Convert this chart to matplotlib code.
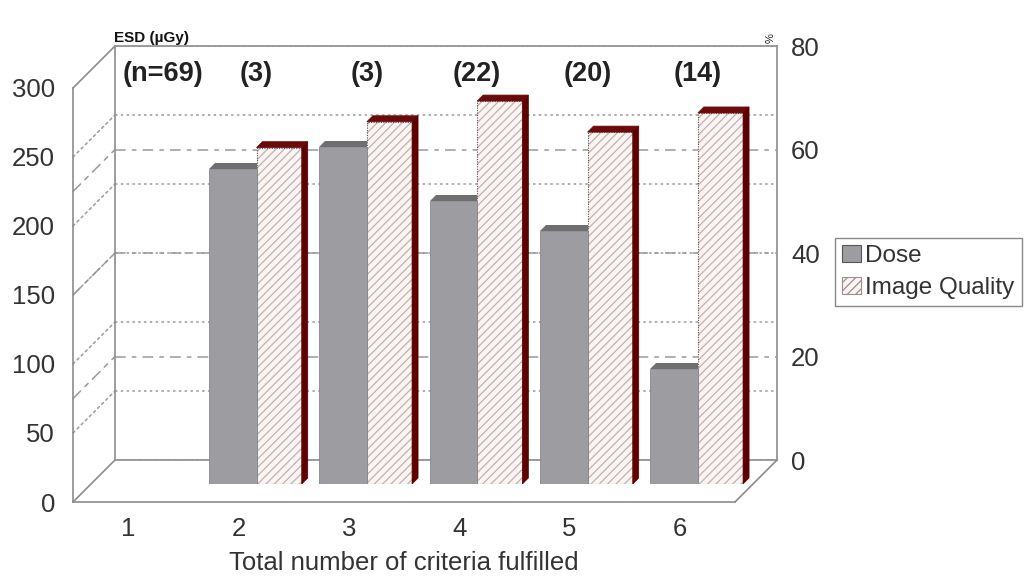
import numpy as np
import matplotlib
matplotlib.use("Agg")
import matplotlib.pyplot as plt
from matplotlib.patches import Polygon, Patch, ConnectionPatch

# Datos: dosis en superficie (ESD, µGy) y calidad de imagen (%) por nº de criterios
criterios = [1, 2, 3, 4, 5, 6]
dosis = [np.nan, 228, 244, 205, 183, 83]
calidad = [np.nan, 65, 70, 74, 68, 71.7]
n_casos = ["(n=69)", "(3)", "(3)", "(22)", "(20)", "(14)"]

plt.rcParams['font.family'] = ['Liberation Sans', 'DejaVu Sans']
plt.rcParams['hatch.linewidth'] = 0.9

W, H = 1028, 577
fig = plt.figure(figsize=(W / 100, H / 100), dpi=100)

# Planos de la "caja" 3D: frontal, barras y fondo (desplazados 45 grados)
PX_L, PX_BASE, PX_W, PX_H = 91, 484, 662, 414
D_FRONT, D_BACK = -18, 24
DEPTH_BAR = 6
GRIS = '#8c8c8c'
TXT = '#333333'


def caja(d):
    return [(PX_L + d) / W, (H - PX_BASE + d) / H, PX_W / W, PX_H / H]


axf = fig.add_axes(caja(D_FRONT))
axb = fig.add_axes(caja(D_BACK))
ax = fig.add_axes(caja(0))
for a in (axf, axb, ax):
    a.set_xlim(0.5, 6.5)
    a.set_ylim(0, 300)
axf_r = axf.twinx()
axb_r = axb.twinx()
ax2 = ax.twinx()
for a in (axf_r, axb_r, ax2):
    a.set_ylim(0, 80)

axf.set_zorder(0)
axf_r.set_zorder(0)
axb.set_zorder(0)
axb_r.set_zorder(0.5)
ax2.set_zorder(1)
ax.set_zorder(2)
ax.axis('off')
ax2.axis('off')
axf_r.axis('off')

# Plano frontal: suelo y eje izquierdo con etiquetas
for s in ('top', 'right'):
    axf.spines[s].set_visible(False)
for s in ('left', 'bottom'):
    axf.spines[s].set_color(GRIS)
    axf.spines[s].set_linewidth(1.2)
axf.patch.set_visible(False)
axf.set_xticks(criterios)
axf.set_yticks(range(0, 301, 50))
axf.tick_params(axis='x', length=0, pad=11, labelsize=18.5, labelcolor=TXT)
axf.tick_params(axis='y', length=0, pad=13, labelsize=18.5, labelcolor=TXT)
axf.set_xlabel('Total number of criteria fulfilled', fontsize=18.5, color=TXT, labelpad=7)

# Pared del fondo con rejilla
axb.patch.set_visible(False)
for s in axb.spines.values():
    s.set_color(GRIS)
    s.set_linewidth(1.2)
axb.set_xticks([])
axb.set_yticks(range(0, 301, 50))
axb.tick_params(axis='y', length=0, labelleft=False)
axb.yaxis.grid(True, linestyle=(0, (1.6, 2.2)), color='#9a9a9a', linewidth=1.1)
axb_r.patch.set_visible(False)
for s in axb_r.spines.values():
    s.set_visible(False)
axb_r.set_yticks(range(0, 81, 20))
axb_r.tick_params(axis='y', length=0, pad=10, labelsize=18.5, labelcolor=TXT)
axb_r.yaxis.grid(True, linestyle=(0, (7, 4, 3, 4)), color='#9a9a9a', linewidth=1.1)

# Pared izquierda y aristas del suelo
def arista(a_front, a_back, x, y, ls='-'):
    cp = ConnectionPatch(xyA=(x, y), coordsA=a_front.transData,
                         xyB=(x, y), coordsB=a_back.transData,
                         color=GRIS if ls == '-' else '#9a9a9a',
                         linewidth=1.2 if ls == '-' else 1.1, linestyle=ls)
    cp.set_zorder(0)
    fig.add_artist(cp)


arista(axf, axb, 0.5, 0)
arista(axf, axb, 0.5, 300)
arista(axf, axb, 6.5, 0)
for v in range(50, 300, 50):
    arista(axf, axb, 0.5, v, ls=(0, (1.6, 2.2)))
for v in range(20, 80, 20):
    arista(axf_r, axb_r, 0.5, v, ls=(0, (7, 4, 3, 4)))


def escala(a):
    x0, x1 = a.get_xlim()
    y0, y1 = a.get_ylim()
    return DEPTH_BAR * (x1 - x0) / PX_W, DEPTH_BAR * (y1 - y0) / PX_H


x = np.array(criterios, dtype=float)
dosis = np.array(dosis, dtype=float)
calidad = np.array(calidad, dtype=float)
ok = ~np.isnan(dosis)

# Barras de dosis (gris)
barras_d = ax.bar(x[ok], dosis[ok], width=-0.43, align='edge',
                  color='#9c9ca1', edgecolor='#88888c', linewidth=0.6)
dx, dy = escala(ax)
for r in barras_d:
    x0, x1, h = r.get_x(), r.get_x() + r.get_width(), r.get_height()
    x0, x1 = min(x0, x1), max(x0, x1)
    ax.add_patch(Polygon([(x0, h), (x1, h), (x1, h + dy), (x0 + dx, h + dy)],
                         closed=True, facecolor='#6f6f72', edgecolor='none'))

# Barras de calidad de imagen (rayadas, caras en granate)
barras_q = ax2.bar(x[ok], calidad[ok], width=0.41, align='edge',
                   facecolor='#fcf3f3', edgecolor='#bdb3b3', hatch='////', linewidth=0)
ax2.bar(x[ok], calidad[ok], width=0.41, align='edge', fill=False,
        edgecolor='#555555', linewidth=0.8, linestyle=(0, (1, 1.2)))
dx, dy = escala(ax2)
for r in barras_q:
    x0, x1, h = r.get_x(), r.get_x() + r.get_width(), r.get_height()
    ax2.add_patch(Polygon([(x0, h), (x1, h), (x1 + dx, h + dy), (x0 + dx, h + dy)],
                          closed=True, facecolor='#6a0a0a', edgecolor='#6a0a0a', linewidth=0.5))
    ax2.add_patch(Polygon([(x1, 0), (x1 + dx, dy), (x1 + dx, h + dy), (x1, h)],
                          closed=True, facecolor='#5e0000', edgecolor='#5e0000', linewidth=0.5))

# Número de casos sobre cada grupo
for i, (xi, txt) in enumerate(zip(criterios, n_casos)):
    desp = 0.15 if i == 0 else 0.0
    ax.text(xi + desp, 0.99, txt, transform=ax.get_xaxis_transform(),
            ha='center', va='center', fontsize=19.5, fontweight='bold', color='#222222')

# Títulos de los ejes
fig.text(152 / W, 1 - 38 / H, 'ESD (µGy)', fontsize=11, fontweight='bold',
         family=['Liberation Sans Narrow', 'Liberation Sans', 'DejaVu Sans'],
         ha='center', va='center', color='#111111')
fig.text(771 / W, 1 - 38 / H, '%', fontsize=8, rotation=90,
         ha='center', va='center', color='#222222')

handles = [Patch(facecolor='#9c9ca1', edgecolor='#555555', linewidth=0.8),
           Patch(facecolor='#fcf3f3', edgecolor='#9a9090', hatch='////', linewidth=0.8)]
leg = fig.legend(handles, ['Dose', 'Image Quality'], loc='upper left',
                 bbox_to_anchor=(835 / W, 1 - 238 / H), fontsize=17.5, frameon=True,
                 fancybox=False, edgecolor='#888888', framealpha=1,
                 handlelength=0.75, handleheight=0.7, handletextpad=0.2,
                 borderpad=0.3, labelspacing=0.4, borderaxespad=0)
leg.get_frame().set_linewidth(1.0)
for t in leg.get_texts():
    t.set_color(TXT)

fig.savefig('out.png', dpi=100)
